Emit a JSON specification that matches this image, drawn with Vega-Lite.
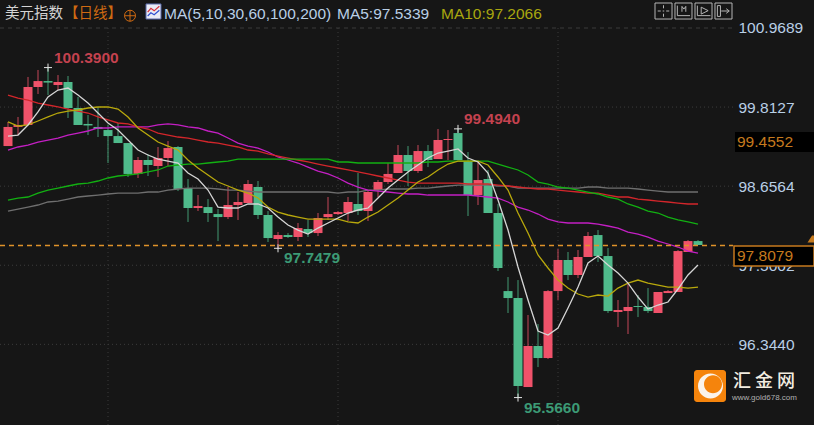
{
  "$schema": "https://vega.github.io/schema/vega-lite/v6.json",
  "width": 814,
  "height": 425,
  "padding": 0,
  "autosize": {"type": "none"},
  "background": "#161616",
  "config": {"view": {"stroke": null}, "font": "Liberation Sans"},
  "datasets": {
    "days": [
      {"day":0,"open":99.243,"close":99.522,"high":99.595,"low":99.243,"ma5":99.389,"ma10":99.595,"ma30":98.454,"ma60":99.989,"ma100":99.185,"ma200":98.293},
      {"day":1,"open":99.522,"close":99.551,"high":99.668,"low":99.404,"ma5":99.404,"ma10":99.536,"ma30":98.483,"ma60":99.945,"ma100":99.229,"ma200":98.322},
      {"day":2,"open":99.551,"close":100.106,"high":100.253,"low":99.551,"ma5":99.551,"ma10":99.551,"ma30":98.498,"ma60":99.916,"ma100":99.258,"ma200":98.351},
      {"day":3,"open":100.106,"close":100.193,"high":100.355,"low":100.004,"ma5":99.741,"ma10":99.609,"ma30":98.556,"ma60":99.872,"ma100":99.302,"ma200":98.381},
      {"day":4,"open":100.193,"close":100.171,"high":100.39,"low":99.989,"ma5":99.96,"ma10":99.668,"ma30":98.6,"ma60":99.843,"ma100":99.331,"ma200":98.425},
      {"day":5,"open":100.135,"close":100.179,"high":100.281,"low":100.062,"ma5":100.062,"ma10":99.726,"ma30":98.629,"ma60":99.814,"ma100":99.36,"ma200":98.439},
      {"day":6,"open":100.179,"close":99.799,"high":100.267,"low":99.653,"ma5":100.091,"ma10":99.755,"ma30":98.659,"ma60":99.784,"ma100":99.404,"ma200":98.468},
      {"day":7,"open":99.799,"close":99.551,"high":99.96,"low":99.551,"ma5":99.989,"ma10":99.77,"ma30":98.688,"ma60":99.755,"ma100":99.433,"ma200":98.498},
      {"day":8,"open":99.566,"close":99.544,"high":99.697,"low":99.404,"ma5":99.872,"ma10":99.799,"ma30":98.702,"ma60":99.726,"ma100":99.463,"ma200":98.513},
      {"day":9,"open":99.522,"close":99.492,"high":99.814,"low":99.375,"ma5":99.726,"ma10":99.814,"ma30":98.732,"ma60":99.668,"ma100":99.507,"ma200":98.527},
      {"day":10,"open":99.477,"close":99.389,"high":99.551,"low":98.995,"ma5":99.58,"ma10":99.814,"ma30":98.776,"ma60":99.624,"ma100":99.507,"ma200":98.542},
      {"day":11,"open":99.389,"close":99.287,"high":99.58,"low":99.287,"ma5":99.477,"ma10":99.784,"ma30":98.805,"ma60":99.58,"ma100":99.522,"ma200":98.556},
      {"day":12,"open":99.287,"close":98.835,"high":99.287,"low":98.791,"ma5":99.331,"ma10":99.668,"ma30":98.82,"ma60":99.566,"ma100":99.522,"ma200":98.556},
      {"day":13,"open":98.835,"close":99.039,"high":99.083,"low":98.776,"ma5":99.185,"ma10":99.507,"ma30":98.835,"ma60":99.522,"ma100":99.522,"ma200":98.556},
      {"day":14,"open":99.039,"close":98.966,"high":99.127,"low":98.805,"ma5":99.112,"ma10":99.404,"ma30":98.864,"ma60":99.492,"ma100":99.522,"ma200":98.571},
      {"day":15,"open":98.951,"close":99.068,"high":99.229,"low":98.791,"ma5":99.053,"ma10":99.302,"ma30":98.893,"ma60":99.433,"ma100":99.551,"ma200":98.571},
      {"day":16,"open":99.068,"close":99.214,"high":99.316,"low":98.951,"ma5":99.024,"ma10":99.243,"ma30":98.951,"ma60":99.404,"ma100":99.566,"ma200":98.6},
      {"day":17,"open":99.229,"close":98.615,"high":99.243,"low":98.585,"ma5":98.995,"ma10":99.185,"ma30":98.966,"ma60":99.375,"ma100":99.551,"ma200":98.615},
      {"day":18,"open":98.629,"close":98.337,"high":98.761,"low":98.133,"ma5":98.849,"ma10":99.039,"ma30":98.98,"ma60":99.36,"ma100":99.522,"ma200":98.629},
      {"day":19,"open":98.337,"close":98.366,"high":98.527,"low":98.293,"ma5":98.761,"ma10":98.922,"ma30":98.98,"ma60":99.331,"ma100":99.507,"ma200":98.629},
      {"day":20,"open":98.351,"close":98.264,"high":98.468,"low":98.133,"ma5":98.6,"ma10":98.82,"ma30":98.995,"ma60":99.302,"ma100":99.463,"ma200":98.629},
      {"day":21,"open":98.249,"close":98.205,"high":98.322,"low":97.854,"ma5":98.351,"ma10":98.717,"ma30":99.01,"ma60":99.287,"ma100":99.433,"ma200":98.615},
      {"day":22,"open":98.205,"close":98.381,"high":98.644,"low":98.176,"ma5":98.337,"ma10":98.659,"ma30":99.024,"ma60":99.258,"ma100":99.36,"ma200":98.6},
      {"day":23,"open":98.381,"close":98.425,"high":98.571,"low":98.162,"ma5":98.337,"ma10":98.6,"ma30":99.053,"ma60":99.229,"ma100":99.287,"ma200":98.6},
      {"day":24,"open":98.41,"close":98.688,"high":98.746,"low":98.41,"ma5":98.396,"ma10":98.556,"ma30":99.053,"ma60":99.185,"ma100":99.243,"ma200":98.585},
      {"day":25,"open":98.644,"close":98.235,"high":98.732,"low":98.176,"ma5":98.396,"ma10":98.483,"ma30":99.053,"ma60":99.17,"ma100":99.214,"ma200":98.571},
      {"day":26,"open":98.235,"close":97.898,"high":98.293,"low":97.84,"ma5":98.337,"ma10":98.351,"ma30":99.053,"ma60":99.127,"ma100":99.156,"ma200":98.571},
      {"day":27,"open":97.884,"close":97.942,"high":97.986,"low":97.748,"ma5":98.205,"ma10":98.278,"ma30":99.053,"ma60":99.097,"ma100":99.083,"ma200":98.571},
      {"day":28,"open":97.942,"close":97.913,"high":97.971,"low":97.898,"ma5":98.088,"ma10":98.235,"ma30":99.053,"ma60":99.068,"ma100":99.039,"ma200":98.571},
      {"day":29,"open":97.913,"close":98.044,"high":98.118,"low":97.854,"ma5":98.015,"ma10":98.205,"ma30":99.053,"ma60":99.039,"ma100":98.995,"ma200":98.571},
      {"day":30,"open":98.03,"close":97.971,"high":98.162,"low":97.913,"ma5":97.957,"ma10":98.176,"ma30":99.053,"ma60":99.01,"ma100":98.936,"ma200":98.571},
      {"day":31,"open":97.971,"close":98.191,"high":98.264,"low":97.928,"ma5":98.044,"ma10":98.176,"ma30":99.053,"ma60":98.98,"ma100":98.878,"ma200":98.571},
      {"day":32,"open":98.205,"close":98.249,"high":98.498,"low":98.162,"ma5":98.118,"ma10":98.176,"ma30":99.053,"ma60":98.951,"ma100":98.835,"ma200":98.571},
      {"day":33,"open":98.249,"close":98.278,"high":98.293,"low":98.235,"ma5":98.191,"ma10":98.176,"ma30":99.01,"ma60":98.922,"ma100":98.776,"ma200":98.556},
      {"day":34,"open":98.264,"close":98.425,"high":98.498,"low":98.147,"ma5":98.264,"ma10":98.133,"ma30":99.01,"ma60":98.893,"ma100":98.702,"ma200":98.571},
      {"day":35,"open":98.396,"close":98.293,"high":98.849,"low":98.235,"ma5":98.308,"ma10":98.118,"ma30":98.995,"ma60":98.864,"ma100":98.644,"ma200":98.571},
      {"day":36,"open":98.293,"close":98.571,"high":98.585,"low":98.147,"ma5":98.337,"ma10":98.205,"ma30":98.995,"ma60":98.835,"ma100":98.6,"ma200":98.6},
      {"day":37,"open":98.6,"close":98.717,"high":98.746,"low":98.498,"ma5":98.483,"ma10":98.278,"ma30":98.995,"ma60":98.805,"ma100":98.585,"ma200":98.6},
      {"day":38,"open":98.717,"close":98.835,"high":98.995,"low":98.688,"ma5":98.629,"ma10":98.381,"ma30":98.995,"ma60":98.776,"ma100":98.571,"ma200":98.615},
      {"day":39,"open":98.849,"close":99.112,"high":99.258,"low":98.849,"ma5":98.746,"ma10":98.483,"ma30":98.995,"ma60":98.746,"ma100":98.556,"ma200":98.615},
      {"day":40,"open":99.112,"close":98.878,"high":99.243,"low":98.659,"ma5":98.864,"ma10":98.6,"ma30":98.995,"ma60":98.717,"ma100":98.542,"ma200":98.615},
      {"day":41,"open":98.878,"close":99.17,"high":99.258,"low":98.849,"ma5":98.966,"ma10":98.717,"ma30":98.995,"ma60":98.702,"ma100":98.542,"ma200":98.629},
      {"day":42,"open":99.17,"close":99.039,"high":99.258,"low":98.936,"ma5":99.068,"ma10":98.791,"ma30":99.01,"ma60":98.702,"ma100":98.527,"ma200":98.629},
      {"day":43,"open":99.053,"close":99.331,"high":99.492,"low":99.053,"ma5":99.141,"ma10":98.893,"ma30":99.01,"ma60":98.702,"ma100":98.527,"ma200":98.644},
      {"day":44,"open":99.331,"close":99.346,"high":99.477,"low":99.039,"ma5":99.17,"ma10":98.98,"ma30":99.024,"ma60":98.702,"ma100":98.527,"ma200":98.659},
      {"day":45,"open":99.433,"close":99.039,"high":99.494,"low":99.039,"ma5":99.2,"ma10":99.024,"ma30":99.024,"ma60":98.702,"ma100":98.527,"ma200":98.673},
      {"day":46,"open":99.024,"close":98.527,"high":99.156,"low":98.22,"ma5":99.068,"ma10":99.024,"ma30":99.024,"ma60":98.688,"ma100":98.527,"ma200":98.673},
      {"day":47,"open":98.527,"close":98.746,"high":99.01,"low":98.381,"ma5":99.01,"ma10":99.024,"ma30":99.024,"ma60":98.688,"ma100":98.513,"ma200":98.673},
      {"day":48,"open":98.761,"close":98.264,"high":98.893,"low":98.264,"ma5":98.849,"ma10":98.966,"ma30":99.024,"ma60":98.688,"ma100":98.498,"ma200":98.673},
      {"day":49,"open":98.264,"close":97.46,"high":98.396,"low":97.416,"ma5":98.454,"ma10":98.791,"ma30":98.98,"ma60":98.673,"ma100":98.483,"ma200":98.659},
      {"day":50,"open":97.123,"close":97.021,"high":97.328,"low":96.802,"ma5":98.015,"ma10":98.6,"ma30":98.936,"ma60":98.659,"ma100":98.425,"ma200":98.659},
      {"day":51,"open":97.021,"close":95.734,"high":97.284,"low":95.566,"ma5":97.475,"ma10":98.264,"ma30":98.893,"ma60":98.644,"ma100":98.351,"ma200":98.629},
      {"day":52,"open":95.72,"close":96.32,"high":96.773,"low":95.72,"ma5":96.992,"ma10":97.971,"ma30":98.82,"ma60":98.629,"ma100":98.308,"ma200":98.629},
      {"day":53,"open":96.32,"close":96.144,"high":96.641,"low":96.012,"ma5":96.539,"ma10":97.65,"ma30":98.717,"ma60":98.615,"ma100":98.249,"ma200":98.629},
      {"day":54,"open":96.144,"close":97.123,"high":97.138,"low":96.13,"ma5":96.48,"ma10":97.46,"ma30":98.688,"ma60":98.615,"ma100":98.176,"ma200":98.629},
      {"day":55,"open":97.123,"close":97.577,"high":97.738,"low":96.992,"ma5":96.583,"ma10":97.284,"ma30":98.644,"ma60":98.6,"ma100":98.133,"ma200":98.629},
      {"day":56,"open":97.577,"close":97.358,"high":97.694,"low":97.284,"ma5":96.875,"ma10":97.167,"ma30":98.629,"ma60":98.585,"ma100":98.118,"ma200":98.629},
      {"day":57,"open":97.358,"close":97.621,"high":97.723,"low":97.313,"ma5":97.182,"ma10":97.08,"ma30":98.6,"ma60":98.571,"ma100":98.118,"ma200":98.629},
      {"day":58,"open":97.621,"close":97.928,"high":97.986,"low":97.621,"ma5":97.533,"ma10":97.036,"ma30":98.571,"ma60":98.556,"ma100":98.118,"ma200":98.644},
      {"day":59,"open":97.942,"close":97.635,"high":98.015,"low":97.548,"ma5":97.635,"ma10":97.065,"ma30":98.542,"ma60":98.556,"ma100":98.103,"ma200":98.644},
      {"day":60,"open":97.635,"close":96.831,"high":97.752,"low":96.802,"ma5":97.504,"ma10":97.05,"ma30":98.498,"ma60":98.527,"ma100":98.074,"ma200":98.629},
      {"day":61,"open":96.817,"close":96.846,"high":96.992,"low":96.597,"ma5":97.387,"ma10":97.167,"ma30":98.468,"ma60":98.498,"ma100":98.044,"ma200":98.629},
      {"day":62,"open":96.831,"close":96.89,"high":97.24,"low":96.495,"ma5":97.24,"ma10":97.24,"ma30":98.396,"ma60":98.498,"ma100":97.986,"ma200":98.629},
      {"day":63,"open":96.904,"close":96.89,"high":97.065,"low":96.743,"ma5":97.036,"ma10":97.284,"ma30":98.351,"ma60":98.468,"ma100":97.957,"ma200":98.615},
      {"day":64,"open":96.89,"close":96.831,"high":97.167,"low":96.802,"ma5":96.86,"ma10":97.24,"ma30":98.293,"ma60":98.454,"ma100":97.913,"ma200":98.6},
      {"day":65,"open":96.802,"close":97.109,"high":97.109,"low":96.802,"ma5":96.919,"ma10":97.211,"ma30":98.264,"ma60":98.439,"ma100":97.854,"ma200":98.585},
      {"day":66,"open":97.094,"close":97.123,"high":97.138,"low":97.094,"ma5":96.963,"ma10":97.182,"ma30":98.205,"ma60":98.425,"ma100":97.811,"ma200":98.571},
      {"day":67,"open":97.109,"close":97.708,"high":97.723,"low":97.109,"ma5":97.153,"ma10":97.182,"ma30":98.162,"ma60":98.41,"ma100":97.767,"ma200":98.571},
      {"day":68,"open":97.694,"close":97.854,"high":97.869,"low":97.694,"ma5":97.358,"ma10":97.167,"ma30":98.133,"ma60":98.396,"ma100":97.708,"ma200":98.571},
      {"day":69,"open":97.854,"close":97.796,"high":97.869,"low":97.796,"ma5":97.504,"ma10":97.182,"ma30":98.103,"ma60":98.396,"ma100":97.679,"ma200":98.571}
    ],
    "highs": [{"day":4,"price":100.39,"label":"100.3900"},{"day":45,"price":99.494,"label":"99.4940"}],
    "lows": [{"day":27,"price":97.748,"label":"97.7479"},{"day":51,"price":95.566,"label":"95.5660"}]
  },
  "data": {"name": "days"},
  "layer": [
    {
      "data": {"values": [{"level":99.8127},{"level":98.6564},{"level":97.5002},{"level":96.344}]},
      "mark": {"type": "rule", "color": "#3c3c3c", "strokeDash": [1, 3]},
      "encoding": {
        "x": {"datum": -0.8, "type": "quantitative", "scale": {"domain": [-0.8, 80.6], "nice": false, "zero": false, "padding": 0}, "axis": null},
        "x2": {"datum": 72.5},
        "y": {
          "field": "level",
          "type": "quantitative",
          "scale": {"domain": [95.165, 101.378], "nice": false, "zero": false, "padding": 0},
          "axis": {
            "orient": "right", "offset": -76, "title": null, "values": [100.9689, 99.8127, 98.6564, 97.5002, 96.344],
            "format": ".4f", "domain": false, "ticks": false, "grid": false, "labelPadding": 0,
            "labelColor": "#b9cfe6", "labelFontSize": 15.5, "labelFont": "Liberation Sans", "labelOverlap": false, "labelFlush": false, "labelBound": false
          }
        }
      }
    },
    {
      "data": {"values": [{"level":100.9689}]},
      "mark": {"type": "rule", "color": "#3c3c3c", "strokeDash": [4, 4]},
      "encoding": {"x": {"datum": -0.8}, "x2": {"datum": 72.5}, "y": {"field": "level", "type": "quantitative"}}
    },
    {
      "data": {"values": [{"day":10},{"day":33},{"day":55}]},
      "mark": {"type": "rule", "color": "#3c3c3c", "strokeDash": [1, 3]},
      "encoding": {"x": {"field": "day", "type": "quantitative"}, "y": {"datum": 100.9689}, "y2": {"datum": 95.165}}
    },
    {
      "mark": {"type": "rule", "strokeWidth": 1, "opacity": 0.8},
      "encoding": {
        "x": {"field": "day", "type": "quantitative"},
        "y": {"field": "high", "type": "quantitative"},
        "y2": {"field": "low"},
        "color": {"condition": {"test": "datum.close >= datum.open", "value": "#f0526a"}, "value": "#4fba8b"}
      }
    },
    {
      "mark": {"type": "bar", "width": 9},
      "encoding": {
        "x": {"field": "day", "type": "quantitative"},
        "y": {"field": "open", "type": "quantitative"},
        "y2": {"field": "close"},
        "color": {"condition": {"test": "datum.close >= datum.open", "value": "#f0526a"}, "value": "#4fba8b"}
      }
    },
    {"mark": {"type": "line", "color": "#6f6f6f", "strokeWidth": 1.3}, "encoding": {"x": {"field": "day", "type": "quantitative"}, "y": {"field": "ma200", "type": "quantitative"}}},
    {"mark": {"type": "line", "color": "#c41fc4", "strokeWidth": 1.3}, "encoding": {"x": {"field": "day", "type": "quantitative"}, "y": {"field": "ma100", "type": "quantitative"}}},
    {"mark": {"type": "line", "color": "#d3262b", "strokeWidth": 1.3}, "encoding": {"x": {"field": "day", "type": "quantitative"}, "y": {"field": "ma60", "type": "quantitative"}}},
    {"mark": {"type": "line", "color": "#12b012", "strokeWidth": 1.3}, "encoding": {"x": {"field": "day", "type": "quantitative"}, "y": {"field": "ma30", "type": "quantitative"}}},
    {"mark": {"type": "line", "color": "#b8a80c", "strokeWidth": 1.3}, "encoding": {"x": {"field": "day", "type": "quantitative"}, "y": {"field": "ma10", "type": "quantitative"}}},
    {"mark": {"type": "line", "color": "#d6d6d6", "strokeWidth": 1.3}, "encoding": {"x": {"field": "day", "type": "quantitative"}, "y": {"field": "ma5", "type": "quantitative"}}},
    {
      "data": {"values": [{"level":97.789}]},
      "mark": {"type": "rule", "stroke": "#e0922a", "strokeDash": [5, 4], "strokeWidth": 1.4, "opacity": 1},
      "encoding": {"x": {"datum": -0.8}, "x2": {"datum": 72.5}, "y": {"field": "level", "type": "quantitative"}}
    },
    {
      "data": {"name": "highs"},
      "mark": {"type": "point", "shape": "M-1,0L1,0M0,-1L0,1", "size": 64, "filled": false, "color": "#e4e4e4", "strokeWidth": 1, "opacity": 1},
      "encoding": {"x": {"field": "day", "type": "quantitative"}, "y": {"field": "price", "type": "quantitative"}}
    },
    {
      "data": {"name": "lows"},
      "mark": {"type": "point", "shape": "M-1,0L1,0M0,-1L0,1", "size": 64, "filled": false, "color": "#e4e4e4", "strokeWidth": 1, "opacity": 1},
      "encoding": {"x": {"field": "day", "type": "quantitative"}, "y": {"field": "price", "type": "quantitative"}}
    },
    {
      "data": {"name": "highs"},
      "mark": {"type": "text", "align": "left", "baseline": "middle", "dx": 6, "dy": -10, "fontSize": 15.5, "fontWeight": "bold", "color": "#c4424f"},
      "encoding": {"x": {"field": "day", "type": "quantitative"}, "y": {"field": "price", "type": "quantitative"}, "text": {"field": "label"}}
    },
    {
      "data": {"name": "lows"},
      "mark": {"type": "text", "align": "left", "baseline": "middle", "dx": 6, "dy": 10, "fontSize": 15.5, "fontWeight": "bold", "color": "#3c9a75"},
      "encoding": {"x": {"field": "day", "type": "quantitative"}, "y": {"field": "price", "type": "quantitative"}, "text": {"field": "label"}}
    },
    {
      "data": {"values": [{}]},
      "mark": {"type": "rect", "fill": "#000000"},
      "encoding": {"x": {"datum": 72.7}, "x2": {"datum": 80.6}, "y": {"datum": 99.448}, "y2": {"datum": 99.156}}
    },
    {
      "data": {"values": [{"label":"99.4552"}]},
      "mark": {"type": "text", "align": "left", "baseline": "middle", "fontSize": 15.5, "color": "#c67a1e"},
      "encoding": {"x": {"datum": 72.9}, "y": {"datum": 99.302}, "text": {"field": "label"}}
    },
    {
      "data": {"values": [{}]},
      "mark": {"type": "rect", "fill": "#000000", "stroke": "#c67a1e", "strokeWidth": 1.5},
      "encoding": {"x": {"datum": 72.6}, "x2": {"datum": 80.6}, "y": {"datum": 97.781}, "y2": {"datum": 97.489}}
    },
    {
      "data": {"values": [{"label":"97.8079"}]},
      "mark": {"type": "text", "align": "left", "baseline": "middle", "fontSize": 15.5, "color": "#c67a1e"},
      "encoding": {"x": {"datum": 72.9}, "y": {"datum": 97.635}, "text": {"field": "label"}}
    },
    {
      "data": {"values": [{}]},
      "mark": {"type": "point", "shape": "M-1,1L0.3,-1L1,-1L1,1Z", "size": 49, "filled": true, "color": "#c67a1e", "opacity": 1},
      "encoding": {"x": {"datum": 80.3}, "y": {"datum": 97.884}}
    },
    {
      "data": {"values": [{"label":"美元指数"}]},
      "mark": {"type": "text", "align": "left", "baseline": "middle", "font": "Noto Sans CJK SC", "fontSize": 14.5, "color": "#d4d4d4"},
      "encoding": {"x": {"datum": -0.3}, "y": {"datum": 101.173}, "text": {"field": "label"}}
    },
    {
      "data": {"values": [{"label":"【日线】"}]},
      "mark": {"type": "text", "align": "left", "baseline": "middle", "font": "Noto Sans CJK SC", "fontSize": 14.5, "color": "#cf6a12"},
      "encoding": {"x": {"datum": 5.6}, "y": {"datum": 101.173}, "text": {"field": "label"}}
    },
    {
      "data": {"values": [{}]},
      "mark": {"type": "point", "shape": "M-1,0A1,1 0 1,1 1,0A1,1 0 1,1 -1,0ZM-1,0L1,0M0,-1L0,1", "size": 121, "filled": false, "color": "#cf6a12", "strokeWidth": 1, "opacity": 1},
      "encoding": {"x": {"datum": 12.2}, "y": {"datum": 101.148}}
    },
    {
      "data": {"values": [{}]},
      "mark": {"type": "rect", "fill": "#e9ebf5", "stroke": "#5565a5", "strokeWidth": 1},
      "encoding": {"x": {"datum": 13.8}, "x2": {"datum": 15.3}, "y": {"datum": 101.32}, "y2": {"datum": 101.1}}
    },
    {
      "data": {"values": [{}]},
      "mark": {"type": "point", "shape": "M-0.9,0.1L-0.4,-0.5L0.1,-0.1L0.9,-0.8", "size": 169, "filled": false, "color": "#d8303a", "strokeWidth": 1.2, "opacity": 1},
      "encoding": {"x": {"datum": 14.55}, "y": {"datum": 101.21}}
    },
    {
      "data": {"values": [{}]},
      "mark": {"type": "point", "shape": "M-0.9,0.7L-0.4,0.2L0.1,0.5L0.9,-0.2", "size": 169, "filled": false, "color": "#3050d0", "strokeWidth": 1.2, "opacity": 1},
      "encoding": {"x": {"datum": 14.55}, "y": {"datum": 101.21}}
    },
    {
      "data": {"values": [{"label":"MA(5,10,30,60,100,200)"}]},
      "mark": {"type": "text", "align": "left", "baseline": "middle", "fontSize": 15.5, "color": "#b9cfe6"},
      "encoding": {"x": {"datum": 15.6}, "y": {"datum": 101.173}, "text": {"field": "label"}}
    },
    {
      "data": {"values": [{"label":"MA5:97.5339"}]},
      "mark": {"type": "text", "align": "left", "baseline": "middle", "fontSize": 15.5, "color": "#b9cfe6"},
      "encoding": {"x": {"datum": 32.9}, "y": {"datum": 101.173}, "text": {"field": "label"}}
    },
    {
      "data": {"values": [{"label":"MA10:97.2066"}]},
      "mark": {"type": "text", "align": "left", "baseline": "middle", "fontSize": 15.5, "color": "#a9a60f"},
      "encoding": {"x": {"datum": 43.3}, "y": {"datum": 101.173}, "text": {"field": "label"}}
    },
    {
      "data": {"values": [{}]},
      "mark": {
        "type": "point",
        "shape": "M-1,-0.208H-0.558V0.208H-1ZM-0.481,-0.208H-0.039V0.208H-0.481ZM0.039,-0.208H0.481V0.208H0.039ZM0.558,-0.208H1V0.208H0.558ZM-0.93,0H-0.85M-0.71,0H-0.63M-0.779,-0.15V-0.07M-0.779,0.07V0.15M-0.8,0H-0.76M-0.42,-0.14V0.12H-0.09M-0.3,-0.12V0.02M-0.2,-0.12V0.02M-0.3,-0.12L-0.25,-0.05L-0.2,-0.12M0.1,-0.14V0.12H0.44M0.2,-0.1L0.38,-0.01L0.2,0.08ZM0.62,-0.14V0.14H0.7V-0.14ZM0.72,0H0.9M0.85,-0.06L0.93,0L0.85,0.06",
        "size": 5929, "filled": false, "color": "#b4b4b4", "strokeWidth": 1, "opacity": 1
      },
      "encoding": {"x": {"datum": 68.55}, "y": {"datum": 101.217}}
    },
    {
      "data": {"values": [{}]},
      "mark": {"type": "rect", "fill": "#f5840c", "cornerRadius": 3},
      "encoding": {"x": {"datum": 68.6}, "x2": {"datum": 71.8}, "y": {"datum": 95.969}, "y2": {"datum": 95.501}}
    },
    {
      "data": {"values": [{}]},
      "mark": {
        "type": "point",
        "shape": "M-1,0A1,1 0 1,1 1,0A1,1 0 1,1 -1,0ZM-0.52,-0.15A0.72,0.72 0 1,0 0.92,-0.15A0.72,0.72 0 1,0 -0.52,-0.15Z",
        "size": 625, "filled": true, "color": "#fbf3ea", "opacity": 1
      },
      "encoding": {"x": {"datum": 70.25}, "y": {"datum": 95.735}}
    },
    {
      "data": {"values": [{"label":"汇 金 网"}]},
      "mark": {"type": "text", "align": "left", "baseline": "middle", "font": "Noto Sans CJK SC", "fontSize": 18, "fontWeight": 500, "color": "#f2ece0"},
      "encoding": {"x": {"datum": 72.5}, "y": {"datum": 95.793}, "text": {"field": "label"}}
    },
    {
      "data": {"values": [{"label":"www.gold678.com"}]},
      "mark": {"type": "text", "align": "left", "baseline": "middle", "fontSize": 8, "color": "#b0b0b0"},
      "encoding": {"x": {"datum": 72.4}, "y": {"datum": 95.559}, "text": {"field": "label"}}
    }
  ]
}
